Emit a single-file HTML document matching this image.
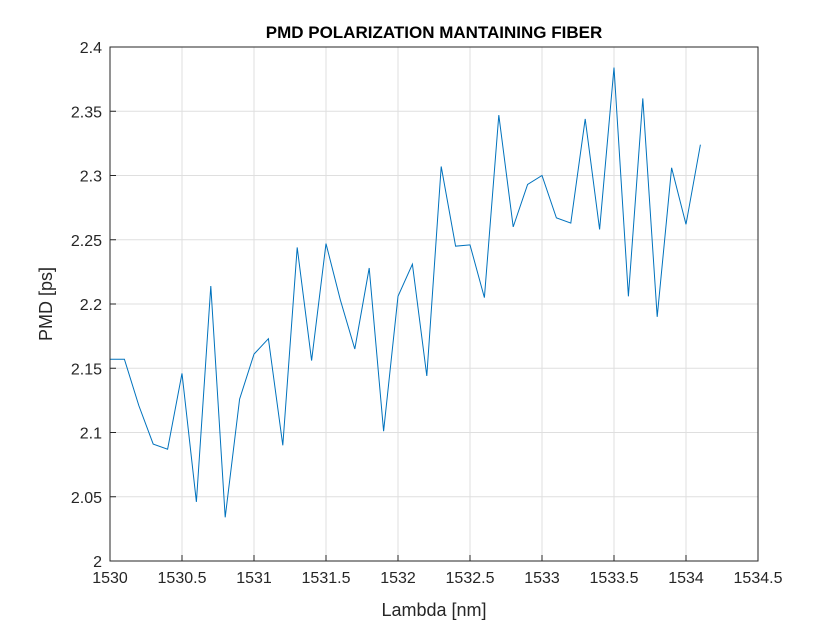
<!DOCTYPE html>
<html><head><meta charset="utf-8"><style>
body{margin:0;background:#fff;font-family:"Liberation Sans",Arial,sans-serif}
svg text{font-family:"Liberation Sans",Arial,sans-serif}
</style></head><body>
<svg id="chart" width="840" height="630" xmlns="http://www.w3.org/2000/svg">
<rect width="840" height="630" fill="#fff"/>
<text x="434" y="38" text-anchor="middle" font-size="17" font-weight="bold" fill="#000">PMD POLARIZATION MANTAINING FIBER</text>
<text x="434" y="616" text-anchor="middle" font-size="18" fill="#262626">Lambda [nm]</text>
<text transform="translate(52,304) rotate(-90)" text-anchor="middle" font-size="18" fill="#262626">PMD [ps]</text>
<g id="grid"></g><g id="ticks"></g><g id="series"></g>
<rect x="110" y="47" width="648" height="514" fill="none" stroke="#262626" stroke-width="1"/>
</svg>
<script>
const xTicks=[1530,1530.5,1531,1531.5,1532,1532.5,1533,1533.5,1534,1534.5];
const xTickLabels=["1530","1530.5","1531","1531.5","1532","1532.5","1533","1533.5","1534","1534.5"];
const yTicks=[2,2.05,2.1,2.15,2.2,2.25,2.3,2.35,2.4];
const yTickLabels=["2","2.05","2.1","2.15","2.2","2.25","2.3","2.35","2.4"];
const lambda=[1530,1530.1,1530.2,1530.3,1530.4,1530.5,1530.6,1530.7,1530.8,1530.9,1531,1531.1,1531.2,1531.3,1531.4,1531.5,1531.6,1531.7,1531.8,1531.9,1532,1532.1,1532.2,1532.3,1532.4,1532.5,1532.6,1532.7,1532.8,1532.9,1533,1533.1,1533.2,1533.3,1533.4,1533.5,1533.6,1533.7,1533.8,1533.9,1534,1534.1];
const pmd=[2.157,2.157,2.121,2.091,2.087,2.146,2.046,2.214,2.034,2.126,2.161,2.173,2.090,2.244,2.156,2.247,2.203,2.165,2.228,2.101,2.206,2.231,2.144,2.307,2.245,2.246,2.205,2.347,2.260,2.293,2.300,2.267,2.263,2.344,2.258,2.384,2.206,2.360,2.190,2.306,2.262,2.324];
const L=110,R=758,T=47,B=561;
const xs=v=>L+(v-1530)/(4.5)*(R-L);
const ys=v=>B-(v-2)/0.4*(B-T);
const NS="http://www.w3.org/2000/svg";
const g=document.getElementById('grid'),tk=document.getElementById('ticks'),s=document.getElementById('series');
function mk(tag,attrs,parent){const e=document.createElementNS(NS,tag);for(const k in attrs)e.setAttribute(k,attrs[k]);parent.appendChild(e);return e;}
xTicks.forEach((v,i)=>{const x=xs(v);
 const l=mk('line',{x1:x,x2:x,y1:T,y2:B,stroke:'#dfdfdf','stroke-width':1},g);
 
 
 mk('line',{x1:x,x2:x,y1:B,y2:B-6,stroke:'#262626'},tk);
 const t=mk('text',{x:x,y:B+22,'text-anchor':'middle','font-size':16,fill:'#262626'},tk);t.textContent=xTickLabels[i];
 
 });
yTicks.forEach((v,i)=>{const y=ys(v);
 const l=mk('line',{x1:L,x2:R,y1:y,y2:y,stroke:'#dfdfdf','stroke-width':1},g);
 
 
 mk('line',{x1:L,x2:L+6,y1:y,y2:y,stroke:'#262626'},tk);
 const t=mk('text',{x:L-8,y:y+6,'text-anchor':'end','font-size':16,fill:'#262626'},tk);t.textContent=yTickLabels[i];
 
 });
const p=mk('polyline',{points:lambda.map((v,i)=>xs(v)+','+ys(pmd[i])).join(' '),fill:'none',stroke:'#0072bd','stroke-width':1},s);


</script>
</body></html>
